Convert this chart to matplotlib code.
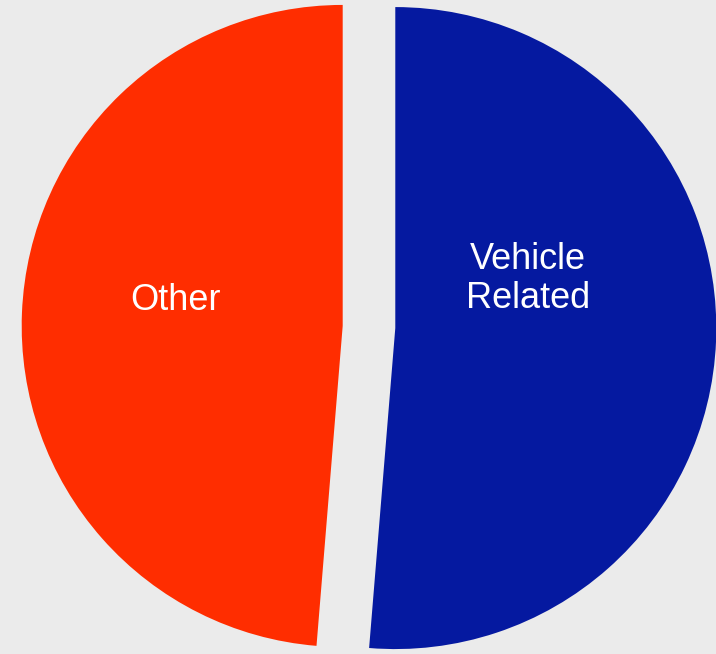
import matplotlib.pyplot as plt

# data (share in percent)
categories = ["Vehicle\nRelated", "Other"]
shares = [51.3, 48.7]
colors = ["#0519A0", "#FF2D00"]

# label positions in pie units (radius = 1)
label_pos = [(0.495, 0.15), (-0.604, 0.084)]

fig = plt.figure(figsize=(7.16, 6.54), dpi=100)
fig.patch.set_facecolor("#EBEBEB")
ax = fig.add_axes([0, 0, 1, 1])
ax.set_facecolor("#EBEBEB")

ax.pie(shares, colors=colors, startangle=90, counterclock=False,
       explode=[0.082, 0.082], radius=1.0,
       wedgeprops=dict(linewidth=0))

for name, (x, y) in zip(categories, label_pos):
    ax.text(x, y, name, ha="center", va="center", color="white",
            fontsize=26, family="Liberation Sans", linespacing=1.15)

# pie centre sits at about (369, 327) px, radius about 321 px
ax.set_xlim(-1.1495, 1.081)
ax.set_ylim(-1.0187, 1.0187)
ax.set_aspect("auto")
ax.axis("off")

fig.savefig("out.png", dpi=100, facecolor=fig.get_facecolor())
